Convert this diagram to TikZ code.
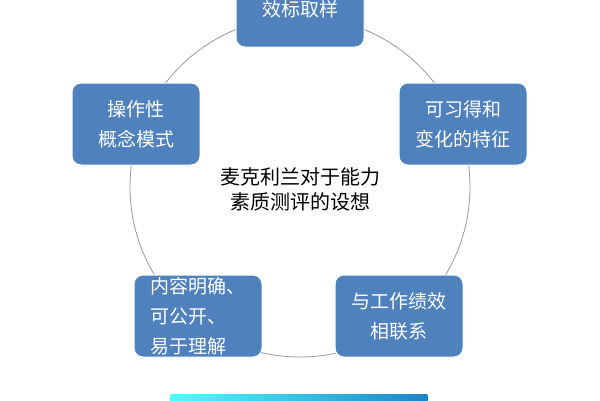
\documentclass[tikz,border=0pt]{standalone}
\usepackage{fontspec}
\newfontfamily\cjk{Noto Sans CJK SC}
\begin{document}
\begin{tikzpicture}[x=1pt,y=-1pt,
  box/.style={draw=white,line width=1pt,fill={rgb,255:red,79;green,129;blue,189},rounded corners=9pt,minimum width=128pt,minimum height=82pt,text=white,font=\cjk\fontsize{19}{30}\selectfont,align=center,inner sep=2pt}]
\useasboundingbox (0,0) rectangle (600,400);
\fill[white] (0,0) rectangle (600,400);
\draw[gray!80,line width=0.8pt] (300,187) circle (170);
\node[box] (a) at (300,6) {};
\node[text=white,font=\cjk\fontsize{19}{24}\selectfont] (at) at (300,9) {效标取样};
\node[box] (b) at (136,124) {操作性\\概念模式};
\node[box] (c) at (463,124) {可习得和\\变化的特征};
\node[box,align=left] (d) at (198,316) {内容明确、\\可公开、\\易于理解};
\node[box] (e) at (399,316) {与工作绩效\\相联系};
\node[font=\cjk\fontsize{20}{25}\selectfont,align=center] (m) at (300,189) {麦克利兰对于能力\\素质测评的设想};
\shade[left color=cyan!70,right color={rgb,255:red,30;green,130;blue,200},rounded corners=2pt] (170,394) rectangle (428,402);
\end{tikzpicture}
\end{document}
